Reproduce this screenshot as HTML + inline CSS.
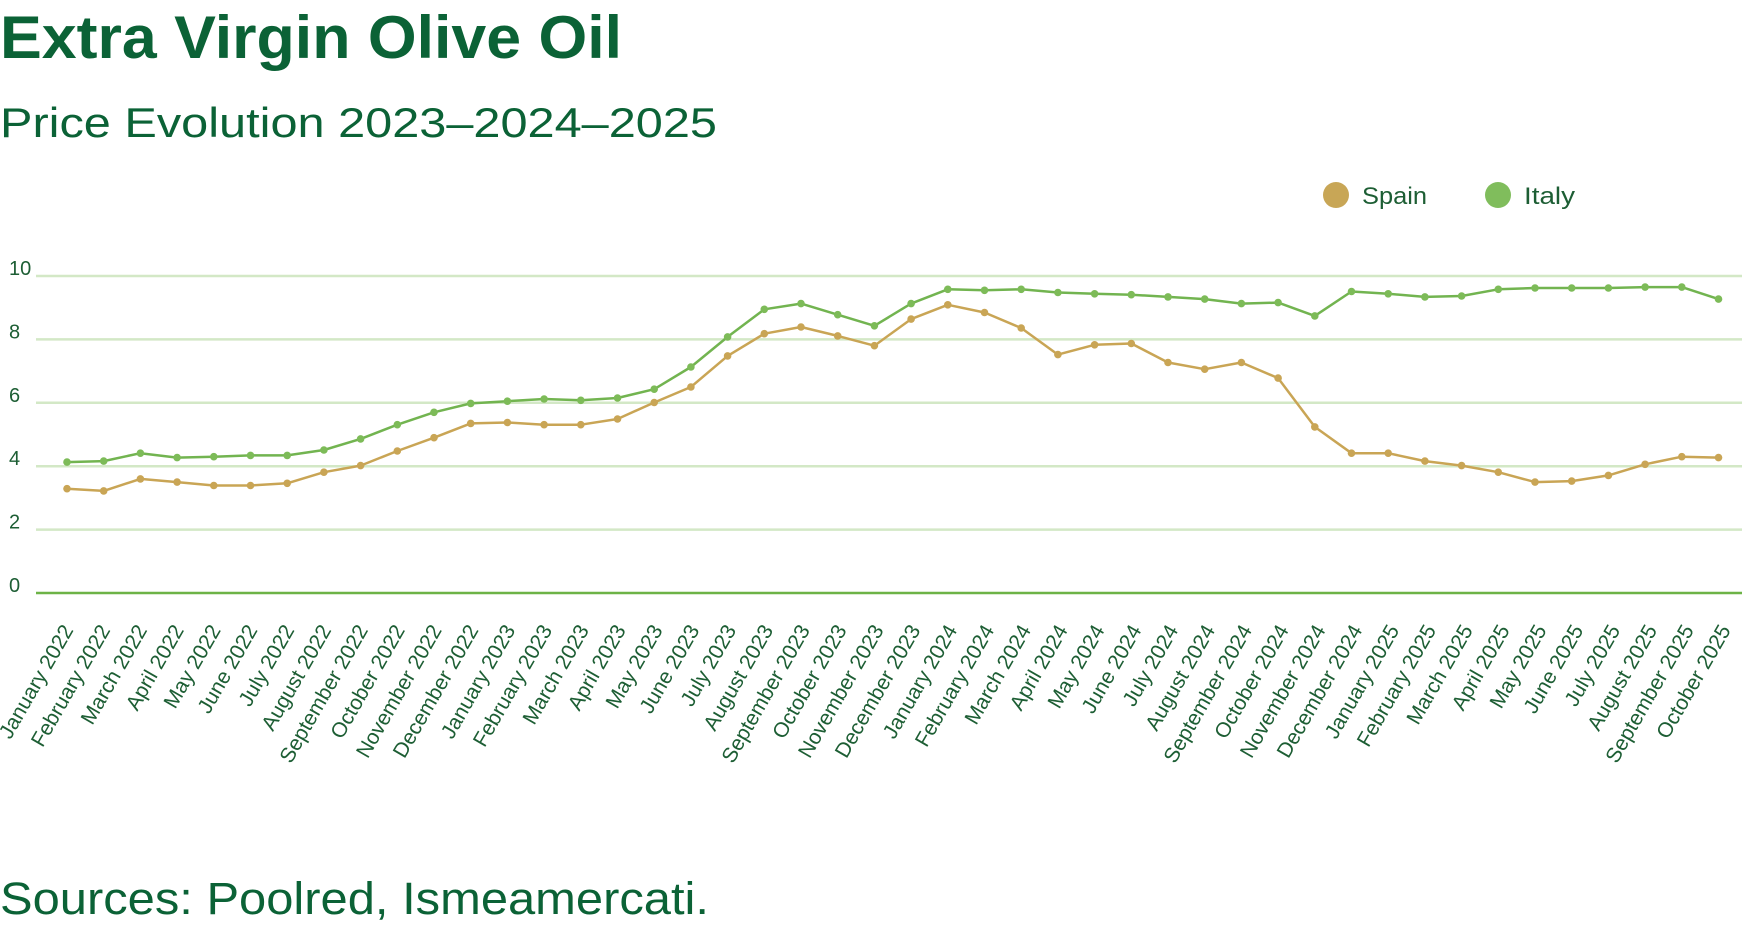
<!DOCTYPE html>
<html><head><meta charset="utf-8"><style>
html,body{margin:0;padding:0;background:#fff;}
svg{display:block;font-family:"Liberation Sans",sans-serif;}
</style></head><body>
<svg id="c" width="1742" height="928" viewBox="0 0 1742 928" xmlns="http://www.w3.org/2000/svg">
<text x="0" y="58" font-size="60" font-weight="bold" fill="#0b6236" textLength="622" lengthAdjust="spacingAndGlyphs">Extra Virgin Olive Oil</text>
<text x="0" y="137" font-size="42" fill="#0b6236" textLength="717" lengthAdjust="spacingAndGlyphs">Price Evolution 2023–2024–2025</text>
<text x="0" y="914" font-size="45" fill="#0b6236" textLength="709" lengthAdjust="spacingAndGlyphs">Sources: Poolred, Ismeamercati.</text>
<circle cx="1336" cy="195" r="13" fill="#c8a656"/>
<text x="1362" y="204" font-size="24" fill="#1d5e34" textLength="65" lengthAdjust="spacingAndGlyphs">Spain</text>
<circle cx="1498" cy="195" r="13" fill="#80bd5c"/>
<text x="1524" y="204" font-size="24" fill="#1d5e34" textLength="51" lengthAdjust="spacingAndGlyphs">Italy</text>
<g id="g"></g>
</svg>
<script>
var S=[3.29,3.22,3.6,3.5,3.39,3.39,3.46,3.81,4.02,4.48,4.9,5.35,5.38,5.31,5.31,5.49,6.01,6.5,7.48,8.18,8.39,8.11,7.8,8.64,9.09,8.85,8.36,7.52,7.83,7.87,7.27,7.06,7.27,6.78,5.24,4.41,4.41,4.16,4.02,3.81,3.5,3.53,3.71,4.06,4.3,4.27];
var I=[4.13,4.16,4.41,4.27,4.3,4.34,4.34,4.51,4.86,5.31,5.7,5.98,6.05,6.12,6.08,6.15,6.43,7.13,8.08,8.95,9.13,8.78,8.43,9.13,9.58,9.55,9.58,9.48,9.44,9.41,9.34,9.27,9.13,9.16,8.74,9.51,9.44,9.34,9.37,9.58,9.62,9.62,9.62,9.65,9.65,9.27];
var M=["January","February","March","April","May","June","July","August","September","October","November","December"];
var g=document.getElementById("g"),h="";
function X(i){return 67+i*36.7;}
function Y(v){return 593-v*31.7;}
for(var k=1;k<=5;k++){var y=Y(k*2);h+='<line x1="36" x2="1742" y1="'+y+'" y2="'+y+'" stroke="#d3e8c6" stroke-width="2.5"/>';}
h+='<line x1="36" x2="1742" y1="593" y2="593" stroke="#6db347" stroke-width="2.5"/>';
for(var k=0;k<=5;k++){h+='<text x="9" y="'+(Y(k*2)-1)+'" font-size="20" fill="#1d5e34">'+(k*2)+'</text>';}
function series(d,col,mc){var p=d.map(function(v,i){return X(i).toFixed(1)+","+Y(v).toFixed(1)}).join(" ");
var s='<polyline points="'+p+'" fill="none" stroke="'+col+'" stroke-width="2.5" stroke-linejoin="round"/>';
d.forEach(function(v,i){s+='<circle cx="'+X(i).toFixed(1)+'" cy="'+Y(v).toFixed(1)+'" r="3.8" fill="'+mc+'"/>';});return s;}
h+=series(S,"#c9a555","#c9a555");
h+=series(I,"#72b450","#7dbb58");
for(var i=0;i<46;i++){var m=i%12,yr=2022+Math.floor(i/12);var lx=X(i)+7+i*0.13,ly=630;
h+='<text transform="translate('+lx.toFixed(1)+','+ly+') rotate(-60)" text-anchor="end" font-size="21" fill="#1d5e34">'+M[m]+' '+yr+'</text>';}
g.innerHTML=h;
</script>
</body></html>
